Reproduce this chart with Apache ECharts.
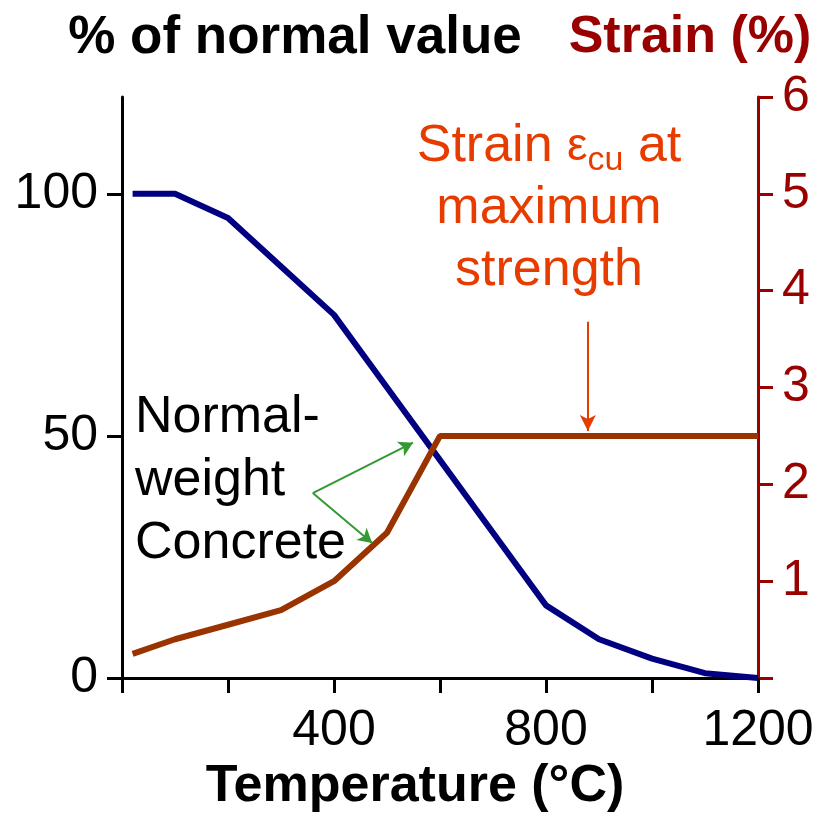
<!DOCTYPE html>
<html>
<head>
<meta charset="utf-8">
<script src="https://cdn.jsdelivr.net/npm/echarts@6/dist/echarts.min.js"></script>
<style>
  html, body { margin: 0; padding: 0; background: #fff; }
  #main { width: 814px; height: 814px; }
</style>
</head>
<body>
<div id="main"></div>
<script>
(function () {

    var font = "'Liberation Sans', Arial, sans-serif";

    // temperature (°C) and strength reduction (% of normal value)
    var temps = [20, 100, 200, 300, 400, 500, 600, 700, 800, 900, 1000, 1100, 1200];
    var strength = [100, 100, 95, 85, 75, 60, 45, 30, 15, 8, 4, 1, 0];

    // strain at maximum strength (%)
    var strainTemps = [20, 100, 200, 300, 400, 500, 600, 700, 800, 900, 1000, 1100, 1200];
    var strain = [0.25, 0.4, 0.55, 0.7, 1.0, 1.5, 2.5, 2.5, 2.5, 2.5, 2.5, 2.5, 2.5];

    var xLabels = [400, 800, 1200];
    var leftLabels = [0, 50, 100];
    var rightLabels = [1, 2, 3, 4, 5, 6];

    // annotation arrows, [from, to] in data units
    var greenArrows = [
        [[360, 38.2], [549, 48.6]],
        [[360, 38.2], [472, 27.9]]
    ];
    var strainArrow = [[879, 3.68], [879, 2.55]];

    function pairs(xs, ys) {
        var out = [];
        for (var i = 0; i < xs.length; i++) out.push([xs[i], ys[i]]);
        return out;
    }

    function plain(v) { return String(v); }

    var myChart = echarts.init(document.getElementById('main'));

    var option = {
        animation: false,
        backgroundColor: '#fff',
        textStyle: { fontFamily: font },
        title: [{
            text: '% of normal value',
            left: 290, top: 33,
            textAlign: 'center', textVerticalAlign: 'middle',
            textStyle: { fontFamily: font, fontSize: 53, fontWeight: 'bold', color: '#000' }
        }, {
            text: 'Strain (%)',
            left: 685, top: 33,
            textAlign: 'center', textVerticalAlign: 'middle',
            textStyle: { fontFamily: font, fontSize: 52, fontWeight: 'bold', color: '#990000' }
        }],
        grid: { left: 122, right: 56, top: 97, bottom: 136, outerBoundsMode: 'none', containLabel: false },
        xAxis: {
            type: 'value',
            min: 0, max: 1200, interval: 200,
            name: 'Temperature (°C)',
            nameLocation: 'middle',
            nameGap: 82,
            nameTextStyle: { fontFamily: font, fontSize: 52, fontWeight: 'bold', color: '#000', padding: [0, 50, 0, 0] },
            axisLine: { lineStyle: { color: '#000', width: 3 } },
            axisTick: { show: true, length: 15, lineStyle: { color: '#000', width: 3 } },
            axisLabel: {
                customValues: xLabels, formatter: plain,
                fontFamily: font, fontSize: 50, color: '#000', margin: 28
            },
            splitLine: { show: false }
        },
        yAxis: [{
            type: 'value',
            min: 0, max: 120, interval: 50,
            position: 'left',
            axisLine: { show: true, lineStyle: { color: '#000', width: 3 } },
            axisTick: { show: true, length: 15, customValues: leftLabels, lineStyle: { color: '#000', width: 3 } },
            axisLabel: { customValues: leftLabels, formatter: plain, fontFamily: font, fontSize: 50, color: '#000', margin: 24 },
            splitLine: { show: false }
        }, {
            type: 'value',
            min: 0, max: 6, interval: 1,
            position: 'right',
            axisLine: { show: true, lineStyle: { color: '#990000', width: 3 } },
            axisTick: { show: true, length: 15, lineStyle: { color: '#990000', width: 3 } },
            axisLabel: { customValues: rightLabels, formatter: plain, fontFamily: font, fontSize: 50, color: '#990000', margin: 24 },
            splitLine: { show: false }
        }],
        series: [{
            name: 'Strength',
            type: 'line',
            yAxisIndex: 0,
            data: pairs(temps, strength),
            showSymbol: false,
            lineStyle: { color: '#000080', width: 6 },
            z: 3,
            markLine: {
                silent: true,
                symbol: ['none', 'arrow'],
                symbolSize: [12, 14],
                label: { show: false },
                lineStyle: { color: '#339933', width: 2, type: 'solid' },
                data: greenArrows.map(function (a) {
                    return [{ coord: a[0] }, { coord: a[1] }];
                })
            }
        }, {
            name: 'Strain',
            type: 'line',
            yAxisIndex: 1,
            data: pairs(strainTemps, strain),
            showSymbol: false,
            lineStyle: { color: '#993300', width: 6 },
            z: 4,
            markLine: {
                silent: true,
                symbol: ['none', 'arrow'],
                symbolSize: [12, 16],
                label: { show: false },
                lineStyle: { color: '#E63C00', width: 2, type: 'solid' },
                data: [[{ coord: strainArrow[0] }, { coord: strainArrow[1] }]]
            }
        }],
        graphic: [{
            type: 'text',
            left: 135, top: 386,
            style: {
                text: 'Normal-\nweight\nConcrete',
                font: '52px ' + font,
                fill: '#000',
                lineHeight: 63
            }
        }, {
            type: 'text',
            x: 549, y: 116,
            style: {
                text: 'Strain {e|ε}{sub|cu} at\nmaximum\nstrength',
                align: 'center',
                fill: '#E63C00',
                fontFamily: font,
                fontSize: 52,
                lineHeight: 62,
                rich: {
                    e: { fontFamily: font, fontSize: 46, fill: '#E63C00', lineHeight: 62 },
                    sub: { fontFamily: font, fontSize: 34, fill: '#E63C00', lineHeight: 30, verticalAlign: 'bottom' }
                }
            }
        }]
    };

    myChart.setOption(option);

})();
</script>
</body>
</html>
